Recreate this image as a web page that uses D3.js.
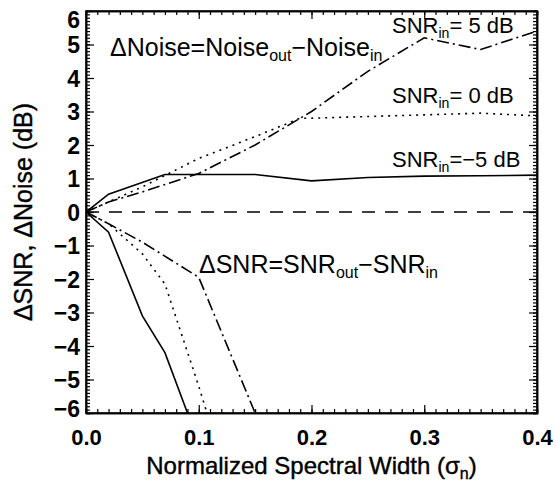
<!DOCTYPE html>
<html>
<head>
<meta charset="utf-8">
<script src="https://cdn.jsdelivr.net/npm/d3@7"></script>
<style>
  body { margin: 0; background: white; }
  text { font-family: "Liberation Sans", Arial, Helvetica, sans-serif; fill: black; }
</style>
</head>
<body>
<div id="chart"></div>
<script>
// sigma_n values and curves
var noise_m5_x = [0, 0.02, 0.07, 0.1, 0.15, 0.2, 0.25, 0.3, 0.35, 0.4];
var noise_m5_y = [0, 0.53, 1.12, 1.12, 1.12, 0.93, 1.03, 1.07, 1.08, 1.1];
var noise_0_x = [0, 0.02, 0.05, 0.1, 0.15, 0.19, 0.2, 0.25, 0.3, 0.35, 0.4];
var noise_0_y = [0, 0.3, 0.75, 1.6, 2.25, 2.8, 2.8, 2.85, 2.9, 2.95, 2.87];
var noise_5_x = [0, 0.02, 0.05, 0.1, 0.15, 0.2, 0.25, 0.3, 0.35, 0.4];
var noise_5_y = [0, 0.3, 0.6, 1.15, 2.0, 3.0, 4.2, 5.2, 4.85, 5.4];

var snr_m5_x = [0, 0.02, 0.05, 0.07, 0.09];
var snr_m5_y = [0, -0.6, -3.1, -4.2, -6.0];
var snr_0_x = [0, 0.02, 0.05, 0.07, 0.1, 0.11];
var snr_0_y = [0, -0.35, -1.25, -2.15, -5.2, -6.3];
var snr_5_x = [0, 0.02, 0.05, 0.1, 0.15];
var snr_5_y = [0, -0.35, -0.9, -1.95, -6.0];

var x_ticks = [0, 0.1, 0.2, 0.3, 0.4];
var y_ticks = [-6, -5, -4, -3, -2, -1, 0, 1, 2, 3, 4, 5, 6];

function draw_chart()
{
  var width = 556, height = 482;
  var margin = {top: 11, right: 19, bottom: 69, left: 86};
  var w = width - margin.left - margin.right,
      h = height - margin.top - margin.bottom;

  var svg = d3.select("#chart").append("svg")
      .attr("width", width)
      .attr("height", height);

  var g = svg.append("g")
      .attr("transform", "translate(" + margin.left + "," + margin.top + ")");

  var x = d3.scaleLinear().domain([0, 0.4]).range([0, w]);
  var y = d3.scaleLinear().domain([-6, 6]).range([h, 0]);

  g.append("clipPath").attr("id", "clip")
    .append("rect").attr("width", w).attr("height", h);

  // minor ticks first
  var x_minor = d3.range(0, 41).map(function(d) { return d / 100; });
  var y_minor = d3.range(-60, 61).map(function(d) { return d / 10; });

  g.append("g").call(d3.axisLeft(y).tickValues(y_minor).tickSize(-4).tickFormat(""));
  g.append("g").attr("transform", "translate(" + w + ",0)")
    .call(d3.axisRight(y).tickValues(y_minor).tickSize(-4).tickFormat(""));
  g.append("g").call(d3.axisTop(x).tickValues(x_minor).tickSize(-4).tickFormat(""));
  g.append("g").attr("transform", "translate(0," + h + ")")
    .call(d3.axisBottom(x).tickValues(x_minor).tickSize(-4).tickFormat(""));

  // major ticks
  var left = g.append("g")
    .call(d3.axisLeft(y).tickValues(y_ticks).tickSizeInner(-8).tickSizeOuter(0).tickPadding(6).tickFormat(d3.format("d")));
  g.append("g").attr("transform", "translate(" + w + ",0)")
    .call(d3.axisRight(y).tickValues(y_ticks).tickSizeInner(-8).tickSizeOuter(0).tickFormat(""));
  g.append("g")
    .call(d3.axisTop(x).tickValues(x_ticks).tickSizeInner(-8).tickSizeOuter(0).tickFormat(""));
  var bottom = g.append("g").attr("transform", "translate(0," + h + ")")
    .call(d3.axisBottom(x).tickValues(x_ticks).tickSizeInner(-8).tickSizeOuter(0).tickPadding(16).tickFormat(d3.format(".1f")));

  g.selectAll(".domain").attr("stroke", "black").attr("stroke-width", 1.5);
  g.selectAll(".tick line").attr("stroke", "black").attr("stroke-width", 1.2);

  left.selectAll("text")
      .attr("font-size", 23)
      .attr("font-weight", "bold")
      .attr("dy", function(d) {
        if (d == 6) return "0.7em";
        if (d == -6) return "0.15em";
        return "0.35em";
      });
  bottom.selectAll("text")
      .attr("font-size", 22)
      .attr("font-weight", "bold");

  svg.selectAll("text").attr("font-family", null);

  // frame
  g.append("rect")
      .attr("width", w).attr("height", h)
      .attr("fill", "none").attr("stroke", "black").attr("stroke-width", 1.5);

  // zero reference
  g.append("line")
      .attr("x1", 0).attr("x2", w)
      .attr("y1", y(0)).attr("y2", y(0))
      .attr("stroke", "black").attr("stroke-width", 1.5)
      .attr("stroke-dasharray", "13,10");

  var line = d3.line()
      .x(function(d) { return x(d[0]); })
      .y(function(d) { return y(d[1]); });

  var series = [
    {xs: noise_m5_x, ys: noise_m5_y, dash: null},
    {xs: noise_0_x, ys: noise_0_y, dash: "2,5"},
    {xs: noise_5_x, ys: noise_5_y, dash: "12,4,2,4"},
    {xs: snr_m5_x, ys: snr_m5_y, dash: null},
    {xs: snr_0_x, ys: snr_0_y, dash: "2,5"},
    {xs: snr_5_x, ys: snr_5_y, dash: "12,4,2,4"}
  ];

  g.append("g").attr("clip-path", "url(#clip)")
    .selectAll("path")
    .data(series)
    .enter().append("path")
      .attr("d", function(s) { return line(d3.zip(s.xs, s.ys)); })
      .attr("fill", "none")
      .attr("stroke", "black")
      .attr("stroke-width", 1.6)
      .attr("stroke-dasharray", function(s) { return s.dash; });

  // annotations, parts = [text, is_subscript]
  function label(px, py, parts, size) {
    var t = svg.append("text").attr("x", px).attr("y", py).attr("font-size", size);
    var shift = 0;
    parts.forEach(function(p) {
      var want = p[1] ? 5 : 0;
      var s = t.append("tspan").attr("dy", want - shift).text(p[0]);
      if (p[1]) s.attr("font-size", size * 0.64);
      shift = want;
    });
    return t;
  }

  label(110, 56, [["\u0394Noise=Noise"], ["out", 1], ["\u2212Noise"], ["in", 1]], 25);
  label(199, 273, [["\u0394SNR=SNR"], ["out", 1], ["\u2212SNR"], ["in", 1]], 25);
  label(392, 33, [["SNR"], ["in", 1], ["= 5 dB"]], 22);
  label(392, 103, [["SNR"], ["in", 1], ["= 0 dB"]], 22);
  label(392, 167, [["SNR"], ["in", 1], ["=\u22125 dB"]], 22);

  // axis titles
  var xt = svg.append("text")
      .attr("x", margin.left + w / 2).attr("y", 474)
      .attr("text-anchor", "middle")
      .attr("font-size", 24)
      .attr("stroke", "black").attr("stroke-width", 0.4);
  xt.append("tspan").text("Normalized Spectral Width (\u03c3");
  xt.append("tspan").attr("font-size", 16).attr("dy", 5).text("n");
  xt.append("tspan").attr("dy", -5).text(")");

  svg.append("text")
      .attr("transform", "translate(32," + (margin.top + h / 2) + ")rotate(-90)")
      .attr("text-anchor", "middle")
      .attr("font-size", 25)
      .attr("stroke", "black").attr("stroke-width", 0.4)
      .text("\u0394SNR, \u0394Noise (dB)");
}
draw_chart();
</script>
</body>
</html>
